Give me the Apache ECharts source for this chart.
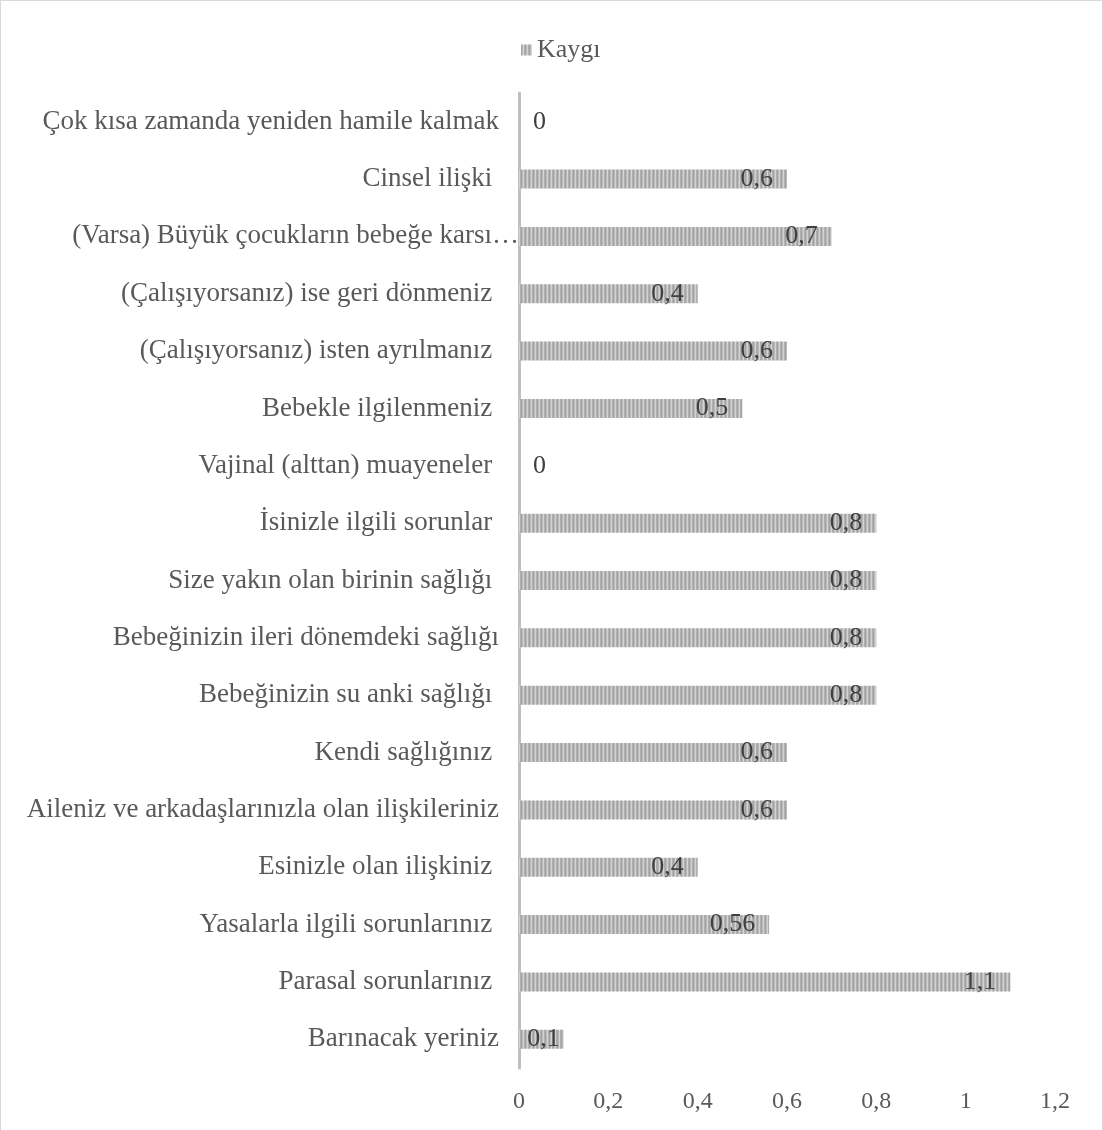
<!DOCTYPE html>
<html>
<head>
<meta charset="utf-8">
<script src="https://cdn.jsdelivr.net/npm/echarts@6/dist/echarts.min.js"></script>
<style>
  html, body { margin: 0; padding: 0; background: #fff; }
  #chart { width: 1101px; height: 1129px; border: 1px solid #d9d9d9; border-bottom: none; }
</style>
</head>
<body>
<div id="chart"></div>
<script>
// Categories, listed from top to bottom
const categories = [
  'Çok kısa zamanda yeniden hamile kalmak',
  'Cinsel ilişki ',
  '(Varsa) Büyük çocukların bebeğe karsı…',
  '(Çalışıyorsanız) ise geri dönmeniz ',
  '(Çalışıyorsanız) isten ayrılmanız ',
  'Bebekle ilgilenmeniz ',
  'Vajinal (alttan) muayeneler ',
  'İsinizle ilgili sorunlar ',
  'Size yakın olan birinin sağlığı ',
  'Bebeğinizin ileri dönemdeki sağlığı',
  'Bebeğinizin su anki sağlığı ',
  'Kendi sağlığınız ',
  'Aileniz ve arkadaşlarınızla olan ilişkileriniz',
  'Esinizle olan ilişkiniz ',
  'Yasalarla ilgili sorunlarınız ',
  'Parasal sorunlarınız ',
  'Barınacak yeriniz'
];
const kaygi = [0, 0.6, 0.7, 0.4, 0.6, 0.5, 0, 0.8, 0.8, 0.8, 0.8, 0.6, 0.6, 0.4, 0.56, 1.1, 0.1];
const seriesName = 'Kaygı';
const xTicks = { min: 0, max: 1.2, interval: 0.2 };

// Vertical pinstripe fill for the bars
function stripePattern() {
  const c = document.createElement('canvas');
  c.width = 4; c.height = 4;
  const g = c.getContext('2d');
  const cols = ['#a3a3a3', '#bababa', '#d4d4d4', '#b0b0b0'];
  for (let i = 0; i < 4; i++) { g.fillStyle = cols[i]; g.fillRect(i, 0, 1, 4); }
  return c;
}
const pattern = { image: stripePattern(), repeat: 'repeat' };

const fmt = v => String(+v.toFixed(2)).replace('.', ',');
const font = 'Liberation Serif';
const textColor = '#595959';

// The truncated label runs right up to the axis line
const yData = categories.map(c => c.endsWith('…')
  ? { value: c, textStyle: { padding: [0, -20, 0, 0] } }
  : c);

const chart = echarts.init(document.getElementById('chart'), null, { renderer: 'canvas' });
chart.setOption({
  animation: false,
  legend: {
    data: [seriesName],
    left: 515, top: 31,
    itemWidth: 11, itemHeight: 11, itemGap: 7,
    icon: 'rect',
    textStyle: { fontFamily: font, fontSize: 26, color: textColor }
  },
  grid: { left: 518, right: 47, top: 92, bottom: 62, containLabel: false },
  xAxis: {
    type: 'value',
    min: xTicks.min, max: xTicks.max, interval: xTicks.interval,
    axisLine: { show: false },
    axisTick: { show: false },
    splitLine: { show: false },
    axisLabel: { formatter: fmt, margin: 22, fontFamily: font, fontSize: 24, color: textColor }
  },
  yAxis: {
    type: 'category',
    data: yData,
    inverse: true,
    axisLine: { show: true, lineStyle: { color: '#bfbfbf', width: 3 } },
    axisTick: { show: false },
    axisLabel: { margin: 20, fontFamily: font, fontSize: 27, color: textColor }
  },
  series: [{
    name: seriesName,
    type: 'bar',
    barWidth: 19,
    itemStyle: { color: pattern },
    data: kaygi.map(v => ({
      value: v,
      label: v === 0
        ? { position: 'right', distance: 14 }
        : { position: 'insideRight', distance: v < 0.2 ? 4 : 14 }
    })),
    label: {
      show: true,
      formatter: p => fmt(p.value),
      fontFamily: font, fontSize: 26, color: '#404040'
    }
  }]
});
</script>
</body>
</html>
